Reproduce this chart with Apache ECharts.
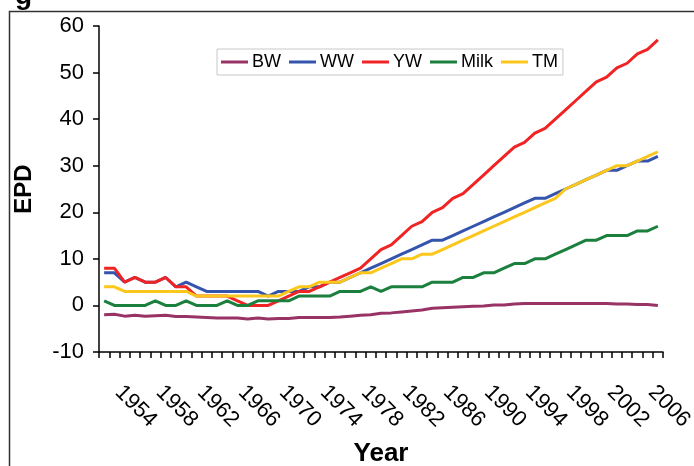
<!DOCTYPE html>
<html>
<head>
<meta charset="utf-8">
<script src="https://cdn.jsdelivr.net/npm/echarts@6/dist/echarts.min.js"></script>
<style>
html,body{margin:0;padding:0;background:#fff;}
#chart{width:694px;height:466px;}
</style>
</head>
<body>
<div id="chart"></div>
<script>
var years = ['1952','1953','1954','1955','1956','1957','1958','1959','1960','1961','1962','1963','1964','1965','1966','1967','1968','1969','1970','1971','1972','1973','1974','1975','1976','1977','1978','1979','1980','1981','1982','1983','1984','1985','1986','1987','1988','1989','1990','1991','1992','1993','1994','1995','1996','1997','1998','1999','2000','2001','2002','2003','2004','2005','2006'];
var tickLabels = ['1954','1958','1962','1966','1970','1974','1978','1982','1986','1990','1994','1998','2002','2006'];
var seriesNames = ['BW','WW','YW','Milk','TM'];
var BW = [-2.0,-1.9,-2.3,-2.1,-2.3,-2.2,-2.1,-2.4,-2.4,-2.5,-2.6,-2.7,-2.7,-2.7,-2.9,-2.7,-2.9,-2.8,-2.8,-2.6,-2.6,-2.6,-2.6,-2.5,-2.3,-2.1,-2.0,-1.7,-1.6,-1.4,-1.2,-1.0,-0.6,-0.5,-0.4,-0.3,-0.2,-0.1,0.1,0.1,0.3,0.4,0.4,0.4,0.4,0.4,0.4,0.4,0.4,0.4,0.3,0.3,0.2,0.2,0.0];
var WW = [7,7,5,6,5,5,6,4,5,4, 3,3,3,3,3,3,2,3,3,3, 4,4,5,5,6,7,8,9,10,11, 12,13,14,14,15,16,17,18,19,20, 21,22,23,23,24,25,26,27,28,29, 29,30,31,31,32];
var YW = [8,8,5,6,5,5,6,4,4,2, 2,2,2,1,0,0,0,1,2,3, 3,4,5,6,7,8,10,12,13,15, 17,18,20,21,23,24,26,28,30,32, 34,35,37,38,40,42,44,46,48,49, 51,52,54,55,57];
var Milk = [1,0,0,0,0,1,0,0,1,0, 0,0,1,0,0,1,1,1,1,2, 2,2,2,3,3,3,4,3,4,4, 4,4,5,5,5,6,6,7,7,8, 9,9,10,10,11,12,13,14,14,15, 15,15,16,16,17];
var TM = [4,4,3,3,3,3,3,3,3,2, 2,2,2,2,2,2,2,2,3,4, 4,5,5,5,6,7,7,8,9,10, 10,11,11,12,13,14,15,16,17,18, 19,20,21,22,23,25,26,27,28,29, 30,30,31,32,33];
var colors = ['#993366','#3554ad','#f02424','#1b7f3d','#fcc71c'];

var FONT = '"Liberation Sans", Arial, sans-serif';
var LABEL_DX = -6;
var chart = echarts.init(document.getElementById('chart'), null, {renderer:'canvas'});
var dataList = [BW, WW, YW, Milk, TM];
var series = seriesNames.map(function(n, k){
  return {
    name: n, type: 'line', data: dataList[k], showSymbol: false, symbol: 'none',
    xAxisIndex: 0, yAxisIndex: 0,
    lineStyle: {width: 3, color: colors[k]}, itemStyle: {color: colors[k]},
    animation: false
  };
});
chart.setOption({
  animation: false,
  color: colors,
  grid: [
    {left: 99, right: 31, top: 26, bottom: 114, containLabel: false, outerBoundsMode: 'none'},
    {left: 99 + LABEL_DX, right: 31 - LABEL_DX, top: 26, bottom: 114, containLabel: false, outerBoundsMode: 'none'}
  ],
  legend: {
    data: seriesNames, left: 217, top: 49, orient: 'horizontal',
    padding: [4, 5, 4, 4], itemGap: 8, itemWidth: 27, itemHeight: 3,
    icon: 'rect', backgroundColor: '#fff', borderColor: '#c8c8c8', borderWidth: 1,
    textStyle: {fontFamily: FONT, fontSize: 18, color: '#000', padding: [0,0,0,-1]}
  },
  xAxis: [{
    gridIndex: 0, type: 'category', data: years, boundaryGap: true,
    name: 'Year', nameLocation: 'middle', nameGap: 89,
    nameTextStyle: {fontFamily: FONT, fontSize: 26, fontWeight: 'bold', color: '#000', verticalAlign: 'top'},
    axisLine: {onZero: false, lineStyle: {color: '#000', width: 1.5}},
    axisTick: {show: true, interval: 0, length: 6, lineStyle: {color: '#000', width: 1.5}},
    axisLabel: {show: false},
    splitLine: {show: false}
  }, {
    gridIndex: 1, type: 'category', data: years, boundaryGap: true,
    axisLine: {show: false, onZero: false}, axisTick: {show: false},
    axisLabel: {
      interval: function(idx, val){ return tickLabels.indexOf(val) >= 0; },
      rotate: -45, margin: 37, fontFamily: FONT, fontSize: 22, color: '#000'
    },
    splitLine: {show: false}
  }],
  yAxis: [{
    gridIndex: 0, type: 'value', min: -10, max: 60, interval: 10,
    name: 'EPD', nameLocation: 'middle', nameGap: 63, nameRotate: 90,
    nameTextStyle: {fontFamily: FONT, fontSize: 24, fontWeight: 'bold', color: '#000'},
    axisLine: {show: true, lineStyle: {color: '#000', width: 1.5}},
    axisTick: {show: true, length: 6, lineStyle: {color: '#000', width: 1.5}},
    axisLabel: {margin: 15, fontFamily: FONT, fontSize: 22, color: '#000'},
    splitLine: {show: false}
  }, {
    gridIndex: 1, type: 'value', min: -10, max: 60, show: false
  }],
  graphic: [
    {type: 'rect', left: 7, top: 9, shape: {x: 0, y: 0, width: 700, height: 470}, style: {fill: 'none', stroke: '#333', lineWidth: 1.5}, silent: true, z: -1},
    {type: 'text', left: 15, top: -18, style: {text: 'g', font: 'bold 28px ' + FONT, fill: '#000'}, silent: true}
  ],
  series: series
});
</script>
</body>
</html>
